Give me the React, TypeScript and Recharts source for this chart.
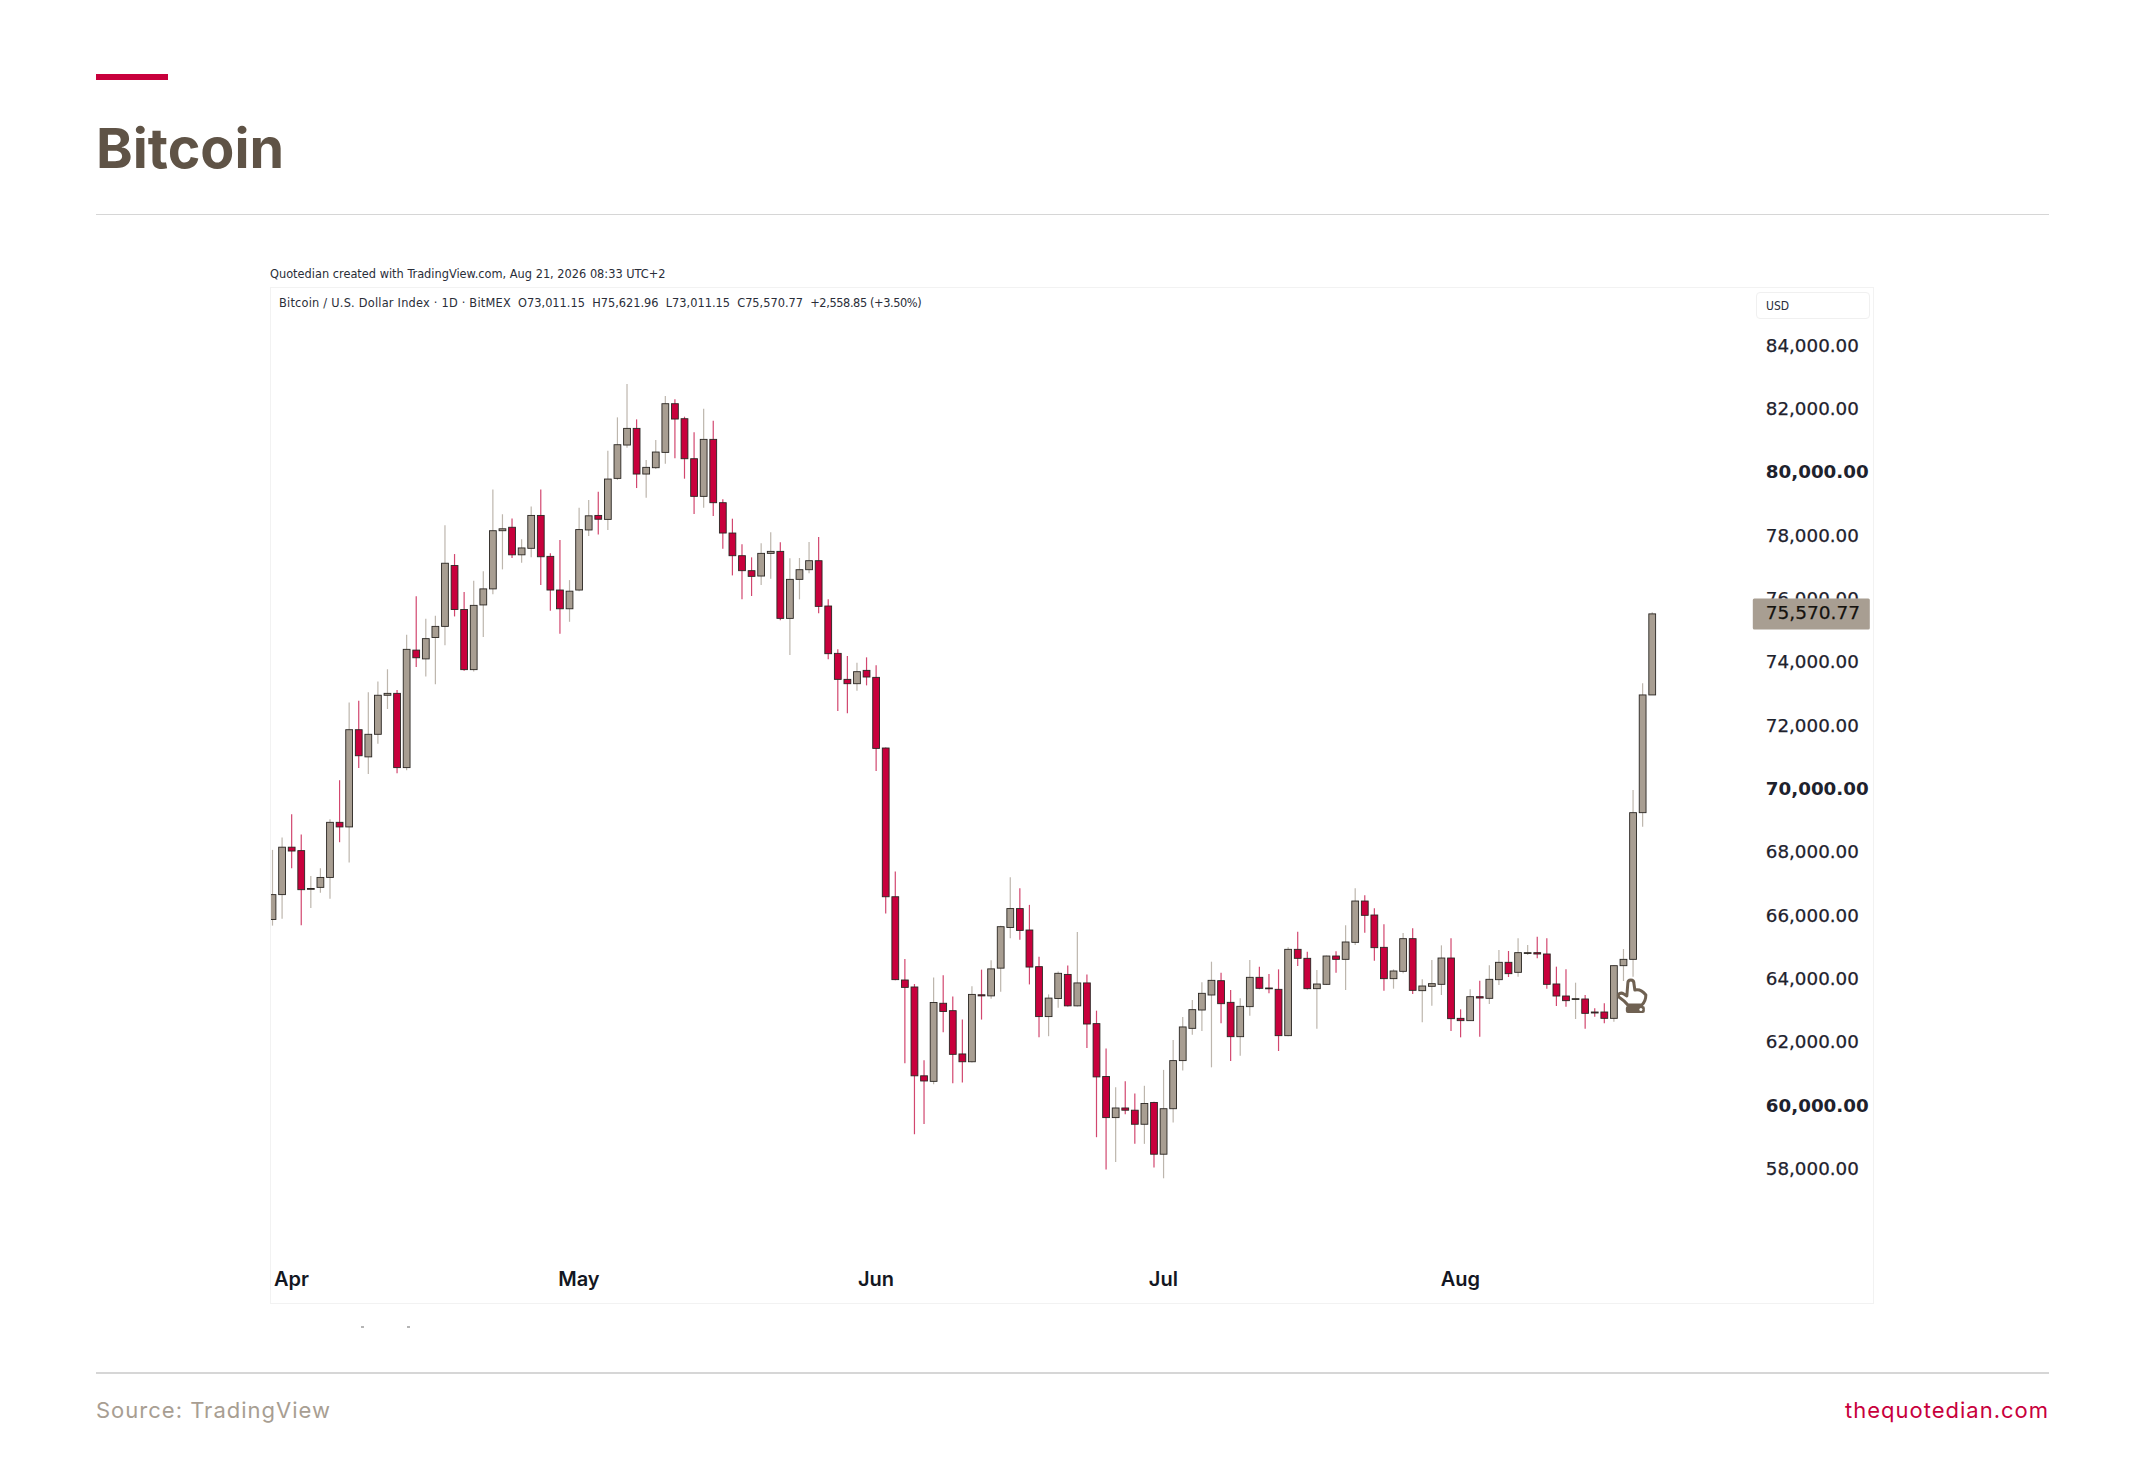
import React from "react";
import {
  ComposedChart,
  Bar,
  XAxis,
  YAxis,
  ReferenceLine,
  ReferenceDot,
} from "recharts";

const opens = [
  65919, 66705, 68203, 68094, 66874, 66934, 67248, 68988, 68843, 71913,
  71055, 71768, 73001, 73061, 70716, 74427, 74149, 74825, 75176, 77097,
  75708, 73810, 75853, 76360, 78197, 78306, 77436, 77641, 78680, 77387,
  76324, 75732, 76324, 78221, 78680, 78555, 79850, 80903, 81429, 79987,
  80187, 80671, 82208, 81734, 80471, 79282, 81082, 79082, 78124, 77408,
  76935, 76766, 77482, 77545, 75429, 76661, 76966, 77250, 75819, 74324,
  73503, 73366, 73787, 73566, 71335, 66638, 64009, 63788, 60983, 60808,
  63274, 63040, 61673, 61427, 63542, 63507, 64383, 65668, 66264, 65587,
  64430, 62853, 63425, 64185, 63192, 63916, 62631, 60960, 59663, 59967,
  59897, 59453, 60142, 58507, 59944, 61463, 62482, 63061, 63535, 63987,
  63303, 62219, 63167, 64093, 63756, 63714, 62251, 64977, 64693, 63735,
  63872, 64766, 64661, 65198, 66503, 66061, 65040, 64051, 64282, 65314,
  63672, 63809, 63872, 64703, 62798, 62725, 63482, 63430, 64019, 64567,
  64251, 64851, 64872, 64830, 63883, 63503, 63398, 63409, 62998, 62998,
  62798, 64461, 64661, 69293, 73011.15,
];

const closes = [
  66705, 68203, 68082, 66861, 66898, 67248, 68988, 68843, 71913, 71091,
  71768, 73001, 73061, 70716, 74451, 74185, 74789, 75176, 77170, 75708,
  73810, 75840, 76360, 78197, 78258, 77436, 77653, 78680, 77375, 76324,
  75732, 76288, 78233, 78668, 78560, 79829, 80913, 81429, 79987, 80198,
  80682, 82208, 81724, 80471, 79282, 81082, 79082, 78124, 77408, 76935,
  76756, 77482, 77545, 75429, 76661, 76966, 77250, 75808, 74314, 73503,
  73366, 73745, 73577, 71323, 66638, 64020, 63776, 60983, 60820, 63297,
  63016, 61661, 61427, 63554, 63507, 64360, 65692, 66264, 65575, 64418,
  62853, 63437, 64220, 63192, 63916, 62619, 60949, 59663, 59967, 59897,
  59453, 60107, 58507, 59944, 61463, 62526, 63072, 63588, 63998, 63261,
  62219, 63177, 64093, 63746, 63735, 62251, 64977, 64693, 63735, 63882,
  64766, 64661, 65209, 66503, 66051, 65030, 64051, 64293, 65314, 63682,
  63819, 63893, 64703, 62788, 62725, 63482, 63440, 64030, 64567, 64209,
  64872, 64872, 64830, 63872, 63503, 63356, 63419, 62956, 62967, 62798,
  64461, 64661, 69293, 73011, 75570.77,
];

const highs = [
  68118, 68505, 69242, 68602, 67296, 67538, 69085, 70318, 72771, 72831,
  73097, 73436, 73822, 73170, 74910, 76131, 75418, 75514, 78366, 77460,
  76264, 76614, 76916, 79502, 78717, 78584, 77931, 78958, 79502, 77484,
  77907, 76638, 78922, 79164, 79430, 80724, 81777, 82829, 81713, 80429,
  81061, 82450, 82345, 81798, 81303, 82050, 81671, 79187, 78577, 77766,
  77356, 77798, 78145, 77829, 77324, 77335, 77840, 77998, 76029, 74450,
  74240, 74029, 74198, 73952, 71350, 67433, 64675, 63881, 61474, 64091,
  64161, 63484, 62759, 63811, 64336, 64629, 65720, 67257, 66907, 66381,
  64745, 63554, 64278, 64465, 65528, 64185, 63040, 61848, 60621, 60808,
  60423, 60668, 60160, 61170, 62117, 62841, 63377, 63935, 64587, 64240,
  63693, 63430, 64640, 64430, 64198, 64345, 65040, 65535, 64903, 64324,
  64780, 64914, 65735, 66903, 66682, 66272, 65766, 64345, 65493, 65640,
  64030, 64640, 65103, 65324, 63082, 63714, 63988, 64472, 64956, 64924,
  65324, 65114, 65377, 65324, 64430, 64346, 63924, 63535, 63114, 63272,
  64480, 64988, 70009, 73377, 75621.96,
];

const lows = [
  65726, 65943, 67538, 65738, 66281, 66764, 66572, 68360, 67719, 70704,
  70511, 71466, 72566, 70535, 70632, 73895, 73593, 73351, 74584, 75490,
  73774, 73750, 74838, 76191, 76976, 77339, 77182, 77363, 76481, 75671,
  74946, 75321, 76288, 78028, 78076, 78219, 79800, 80819, 79545, 79240,
  80150, 80313, 80482, 79840, 78724, 78924, 78661, 77629, 76786, 76029,
  76135, 76482, 76682, 75366, 74271, 76029, 76850, 75587, 74135, 72503,
  72429, 73145, 73313, 70610, 66112, 64000, 61381, 59138, 59465, 60715,
  62362, 60750, 60773, 61400, 62759, 63413, 63636, 65330, 65283, 63869,
  62199, 62234, 63133, 63170, 63170, 61860, 59044, 58028, 58262, 59769,
  58834, 58834, 58086, 57747, 59512, 61147, 62282, 62398, 61251, 62640,
  61451, 61619, 62882, 63720, 63588, 61766, 62230, 64451, 63710, 62472,
  63850, 64240, 63693, 65114, 65503, 64619, 63672, 63735, 64219, 63567,
  62672, 63198, 63535, 62398, 62198, 62710, 62219, 63251, 63851, 64104,
  64114, 64798, 64693, 63735, 63188, 63167, 62777, 62472, 62851, 62640,
  62693, 63977, 64114, 68851, 73011.15,
];

const priceTicks = [
  58000, 60000, 62000, 64000, 66000, 68000, 70000, 72000, 74000, 76000, 78000,
  80000, 82000, 84000,
];
const roundPrices = [60000, 70000, 80000];
const monthTicks = ["2026-04-01", "2026-05-01", "2026-06-01", "2026-07-01", "2026-08-01"];
const monthNames: Record<string, string> = {
  "04": "Apr",
  "05": "May",
  "06": "Jun",
  "07": "Jul",
  "08": "Aug",
};

const lastClose = 75570.77;
// this tick sits behind the last price tag, only its top half shows
const hiddenTick = 76000;

const UP = "#a89e92";
const DOWN = "#c8003c";
const UP_WICK = "#bdb6ad";
const DOWN_WICK = "#d2476f";
const BORDER = "#2a2622";
const INK = "#1e222d";
const BROWN = "#5f5346";
const HAND = "#6f6152";

// one row per day, first bar is Mar 30
const data = opens.map((open, i) => ({
  day: new Date(Date.UTC(2026, 2, 30 + i)).toISOString().slice(0, 10),
  open,
  close: closes[i],
  high: highs[i],
  low: lows[i],
  range: [lows[i], highs[i]],
}));

// the Bar scales low..high for us, the body is placed from the same ratio
function Candle(props: any) {
  const { x, y, width, height, payload } = props;
  const { open, close, high, low } = payload;
  const perUnit = height / (high - low);
  const up = close >= open;
  const cx = x + width / 2;
  const top = y + (high - Math.max(open, close)) * perUnit;
  const bodyH = Math.max(Math.abs(close - open) * perUnit, 0.8);
  return (
    <g>
      <line
        x1={cx}
        x2={cx}
        y1={y}
        y2={y + height}
        stroke={up ? UP_WICK : DOWN_WICK}
        strokeWidth={1.2}
      />
      <rect
        x={cx - 3.4}
        y={top}
        width={6.8}
        height={bodyH}
        fill={up ? UP : DOWN}
        stroke={BORDER}
        strokeWidth={0.9}
      />
    </g>
  );
}

function PriceTick({ x, y, payload }: any) {
  const bold = roundPrices.includes(payload.value);
  const clipped = payload.value === hiddenTick;
  return (
    <g>
      {clipped && (
        <clipPath id="above-tag">
          <rect x={x} y={y - 30} width={130} height={28.1} />
        </clipPath>
      )}
      <text
        x={x}
        y={y - 1.9}
        dy="0.36em"
        fontFamily="DejaVu Sans"
        fontSize={18.3}
        fontWeight={bold ? 700 : 400}
        fill={INK}
        stroke={bold ? "none" : INK}
        strokeWidth={0.25}
        textAnchor="start"
        clipPath={clipped ? "url(#above-tag)" : undefined}
      >
        {payload.value.toLocaleString("en-US", { minimumFractionDigits: 2 })}
      </text>
    </g>
  );
}

function PriceTag({ viewBox }: any) {
  const left = viewBox.x + viewBox.width + 96;
  const mid = viewBox.y;
  return (
    <g>
      <rect x={left} y={mid - 15.5} width={117} height={31} rx={1.5} fill={UP} />
      <text
        x={left + 13}
        y={mid - 1.9}
        dy="0.36em"
        fontFamily="DejaVu Sans"
        fontSize={18.5}
        fill="#15130f"
        stroke="#15130f"
        strokeWidth={0.25}
      >
        {lastClose.toLocaleString("en-US")}
      </text>
    </g>
  );
}

function Hand({ cx, cy }: any) {
  return (
    <g transform={`translate(${cx} ${cy})`}>
      <path
        d="M -5 -14 C -5 -18 1 -18 1 -14 L 2 -7 C 6 -8 10 -6 13 -2 C 13 3 11 6 9 8 L -5 8 C -8 4 -11 2 -14 0 C -16 -3 -12 -5 -9 -3 L -6 -1 Z"
        fill="#ffffff"
        stroke={HAND}
        strokeWidth={3}
        strokeLinejoin="round"
      />
      <rect x={-7} y={9} width={19} height={7} rx={2} fill={HAND} />
      <circle cx={8} cy={12.5} r={1.5} fill="#ffffff" />
    </g>
  );
}

const abs = (left: number, top: number, rest: React.CSSProperties = {}): React.CSSProperties => ({
  position: "absolute",
  left,
  top,
  ...rest,
});

const smallText: React.CSSProperties = {
  fontFamily: "DejaVu Sans Condensed, DejaVu Sans",
  fontSize: 12.65,
  lineHeight: "16px",
  color: "#2a2e39",
  whiteSpace: "pre",
};

const footerText: React.CSSProperties = {
  fontFamily: "Inter",
  fontSize: 22,
  lineHeight: "30px",
  letterSpacing: 1,
};

export default function App() {
  return (
    <div style={abs(0, 0, { width: 2145, height: 1458, background: "#ffffff", overflow: "hidden" })}>
      <div style={abs(96, 74, { width: 72, height: 6, background: DOWN })} />
      <div
        style={abs(96, 114, {
          fontFamily: "Inter",
          fontWeight: 700,
          fontSize: 55.6,
          lineHeight: "68px",
          color: BROWN,
        })}
      >
        Bitcoin
      </div>
      <div style={abs(96, 213.5, { width: 1953, height: 1.5, background: "#d6d6d6" })} />

      <div style={abs(0, 0)}>
        <ComposedChart
          width={2145}
          height={1458}
          data={data}
          barCategoryGap={0}
          margin={{ top: 315.3, right: 0, bottom: 0, left: 267.5 }}
        >
          <XAxis
            dataKey="day"
            ticks={monthTicks}
            interval={0}
            height={224.4}
            axisLine={false}
            tickLine={false}
            tickMargin={32.5}
            tick={{ fontFamily: "Inter", fontWeight: 600, fontSize: 20, fill: "#131722" }}
            tickFormatter={(d: string) => monthNames[d.slice(5, 7)]}
          />
          <YAxis
            orientation="right"
            domain={[56000, 85000]}
            ticks={priceTicks}
            interval={0}
            width={488.2}
            axisLine={false}
            tickLine={false}
            tickSize={0}
            tickMargin={109}
            tick={<PriceTick />}
          />
          <Bar dataKey="range" isAnimationActive={false} shape={<Candle />} />
          <ReferenceDot x="2026-08-19" y={63472} ifOverflow="visible" shape={<Hand />} />
          <ReferenceLine
            y={lastClose}
            stroke="none"
            ifOverflow="visible"
            label={<PriceTag />}
          />
        </ComposedChart>
      </div>

      {/* white strip that cuts the first bar at the panel edge */}
      <div style={abs(262, 300, { width: 9, height: 950, background: "#ffffff" })} />
      <div
        style={abs(270, 287, {
          width: 1604,
          height: 1017,
          border: "1.5px solid #f2f2f2",
          boxSizing: "border-box",
          pointerEvents: "none",
        })}
      />

      <div style={abs(270, 266, smallText)}>
        Quotedian created with TradingView.com, Aug 21, 2026 08:33 UTC+2
      </div>
      <div style={abs(279, 295, smallText)}>
        <span style={{ letterSpacing: 0.22 }}>Bitcoin / U.S. Dollar Index · 1D · BitMEX</span>
        {"  O73,011.15  H75,621.96  L73,011.15  C75,570.77  "}
        <span style={{ letterSpacing: -0.4 }}>+2,558.85 (+3.50%)</span>
      </div>
      <div
        style={abs(1756, 292, {
          ...smallText,
          width: 114,
          height: 27,
          border: "1px solid #f0f0f0",
          borderRadius: 4,
          boxSizing: "border-box",
          paddingLeft: 9,
          fontSize: 12,
          lineHeight: "27px",
        })}
      >
        USD
      </div>

      {/* leftovers of a cropped line under the panel */}
      <div style={abs(361, 1326, { width: 3, height: 2, background: "#b5b5b5" })} />
      <div style={abs(407, 1326, { width: 3, height: 2, background: "#b5b5b5" })} />

      <div style={abs(96, 1372, { width: 1953, height: 1.5, background: "#d6d6d6" })} />
      <div style={abs(96, 1395, { ...footerText, color: "#a89e92" })}>Source: TradingView</div>
      <div style={abs(1749, 1395, { ...footerText, width: 300, textAlign: "right", color: DOWN })}>
        thequotedian.com
      </div>
    </div>
  );
}
